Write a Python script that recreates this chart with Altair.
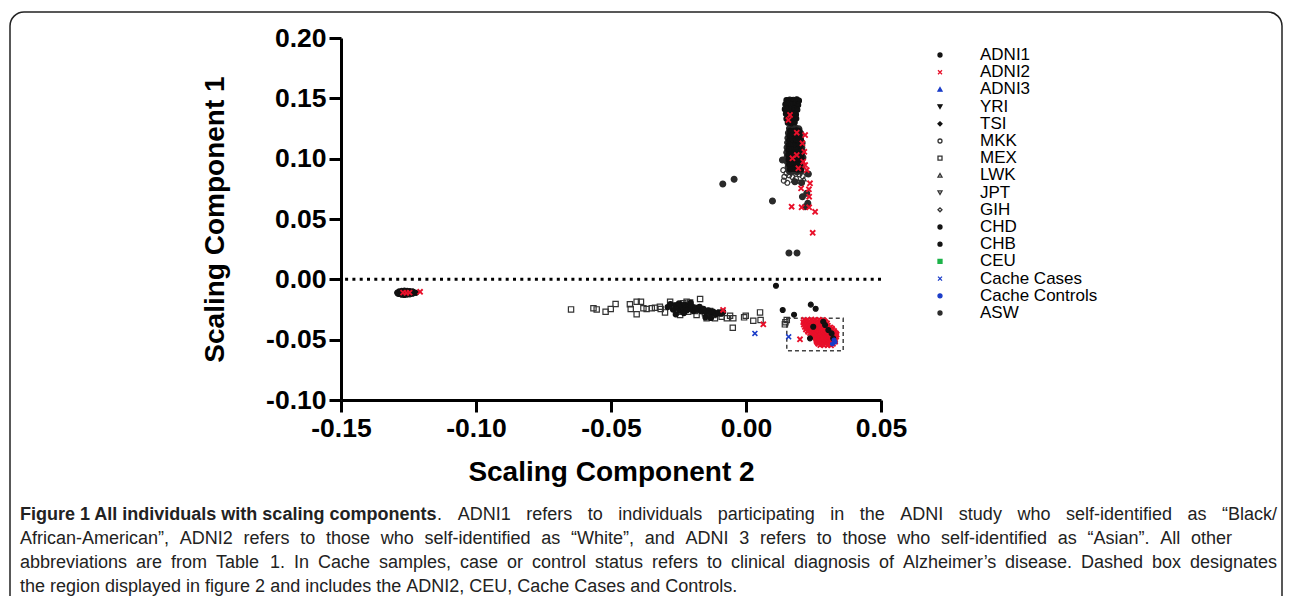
import altair as alt
import pandas as pd

# ---------------- data ----------------
groups = ["ADNI1", "ADNI2", "ADNI3", "YRI", "TSI", "MKK", "MEX", "LWK", "JPT",
          "GIH", "CHD", "CHB", "CEU", "Cache Cases", "Cache Controls", "ASW"]

x_ticks = [-0.15, -0.10, -0.05, 0.00, 0.05]
y_ticks = [-0.10, -0.05, 0.00, 0.05, 0.10, 0.15, 0.20]

# (Scaling Component 2, Scaling Component 1) pairs per group
mex_pts = [(-0.0648, -0.0249), (-0.0565, -0.0240), (-0.0553, -0.0249), (-0.0520, -0.0268),
           (-0.0501, -0.0246), (-0.0483, -0.0205), (-0.0430, -0.0207), (-0.0405, -0.0186),
           (-0.0389, -0.0186), (-0.0427, -0.0246), (-0.0405, -0.0290), (-0.0380, -0.0240),
           (-0.0368, -0.0246), (-0.0349, -0.0240), (-0.0337, -0.0235), (-0.0319, -0.0227),
           (-0.0316, -0.0246), (-0.0300, -0.0274), (-0.0281, -0.0186), (-0.0269, -0.0219),
           (-0.0257, -0.0240), (-0.0251, -0.0268), (-0.0244, -0.0296), (-0.0232, -0.0199),
           (-0.0220, -0.0186), (-0.0207, -0.0191), (-0.0226, -0.0254), (-0.0214, -0.0268),
           (-0.0201, -0.0240), (-0.0189, -0.0263), (-0.0183, -0.0296), (-0.0170, -0.0163),
           (-0.0164, -0.0254), (-0.0152, -0.0282), (-0.0146, -0.0323), (-0.0133, -0.0263),
           (-0.0121, -0.0296), (-0.0115, -0.0323), (-0.0109, -0.0282), (-0.0096, -0.0274),
           (-0.0090, -0.0310), (-0.0071, -0.0323), (-0.0059, -0.0302), (-0.0047, -0.0323),
           (-0.0049, -0.0401), (-0.0007, -0.0315), (-0.0001, -0.0302), (0.0027, -0.0343),
           (0.0052, -0.0274), (0.0054, -0.0337), (0.0146, -0.0356), (0.0151, -0.0337),
           (0.0144, -0.0373)]

mkk_pts = [(0.0138, 0.0905), (0.0150, 0.0880), (0.0142, 0.0850), (0.0160, 0.0862),
           (0.0172, 0.0848), (0.0185, 0.0835), (0.0198, 0.0870), (0.0165, 0.0890),
           (0.0210, 0.0855), (0.0228, 0.0875), (0.0140, 0.0818), (0.0153, 0.0800)]

lwk_pts = [(0.0175, 0.0820), (0.0195, 0.0812), (0.0215, 0.0832)]

asw_pts = [(0.0161, 0.1250), (0.0173, 0.1248), (0.0185, 0.1252), (0.0196, 0.1247),
           (0.0157, 0.1212), (0.0169, 0.1215), (0.0181, 0.1210), (0.0192, 0.1214), (0.0203, 0.1209),
           (0.0155, 0.1172), (0.0167, 0.1175), (0.0178, 0.1170), (0.0190, 0.1174), (0.0201, 0.1169),
           (0.0154, 0.1133), (0.0165, 0.1130), (0.0177, 0.1135), (0.0189, 0.1131), (0.0199, 0.1134), (0.0208, 0.1129),
           (0.0152, 0.1092), (0.0163, 0.1095), (0.0175, 0.1090), (0.0187, 0.1094), (0.0198, 0.1089), (0.0207, 0.1093),
           (0.0151, 0.1051), (0.0162, 0.1054), (0.0174, 0.1049), (0.0186, 0.1053), (0.0197, 0.1050), (0.0209, 0.1055),
           (0.0152, 0.1013), (0.0163, 0.1010), (0.0176, 0.1015), (0.0188, 0.1011), (0.0200, 0.1014), (0.0211, 0.1009),
           (0.0153, 0.0972), (0.0166, 0.0975), (0.0178, 0.0970), (0.0191, 0.0974), (0.0203, 0.0971),
           (0.0156, 0.0931), (0.0169, 0.0934), (0.0182, 0.0929), (0.0195, 0.0933), (0.0207, 0.0930),
           (0.0161, 0.0893), (0.0175, 0.0896), (0.0189, 0.0891), (0.0203, 0.0895),
           (0.0098, 0.0649), (0.0135, 0.0989), (0.0181, 0.0809), (0.0206, 0.0801),
           (0.0209, 0.0685), (0.0225, 0.0713), (0.0219, 0.0602), (0.0229, 0.0630),
           (0.0231, 0.0873), (-0.0086, 0.0790), (-0.0044, 0.0829), (0.0159, 0.0218),
           (0.0189, 0.0218)]

adni1_pts = [(0.0150, 0.1485), (0.0162, 0.1490), (0.0175, 0.1488), (0.0188, 0.1492), (0.0196, 0.1480),
             (0.0146, 0.1450), (0.0158, 0.1455), (0.0170, 0.1448), (0.0182, 0.1452), (0.0193, 0.1445),
             (0.0144, 0.1410), (0.0155, 0.1415), (0.0167, 0.1408), (0.0179, 0.1412), (0.0190, 0.1405),
             (0.0148, 0.1372), (0.0160, 0.1368), (0.0172, 0.1375), (0.0185, 0.1365),
             (0.0150, 0.1330), (0.0162, 0.1335), (0.0174, 0.1328), (0.0186, 0.1332),
             (0.0155, 0.1298), (0.0168, 0.1293), (0.0180, 0.1300),
             (0.0163, 0.1232), (0.0175, 0.1230), (0.0187, 0.1234), (0.0198, 0.1229),
             (0.0161, 0.1192), (0.0173, 0.1195), (0.0185, 0.1190), (0.0196, 0.1193),
             (0.0160, 0.1152), (0.0172, 0.1155), (0.0184, 0.1150), (0.0195, 0.1154), (0.0204, 0.1151),
             (0.0158, 0.1112), (0.0170, 0.1115), (0.0182, 0.1110), (0.0193, 0.1113), (0.0203, 0.1111),
             (0.0157, 0.1072), (0.0168, 0.1075), (0.0180, 0.1070), (0.0192, 0.1074), (0.0203, 0.1071),
             (0.0157, 0.1032), (0.0169, 0.1035), (0.0181, 0.1030), (0.0194, 0.1034), (0.0205, 0.1031),
             (0.0158, 0.0992), (0.0171, 0.0995), (0.0183, 0.0990), (0.0196, 0.0994), (0.0207, 0.0991),
             (0.0160, 0.0952), (0.0173, 0.0955), (0.0186, 0.0950), (0.0199, 0.0953),
             (0.0163, 0.0912), (0.0177, 0.0915), (0.0191, 0.0910), (0.0204, 0.0913),
             (-0.0290, -0.0230), (-0.0280, -0.0205), (-0.0270, -0.0250), (-0.0262, -0.0215),
             (-0.0255, -0.0235), (-0.0248, -0.0200), (-0.0245, -0.0260), (-0.0240, -0.0222),
             (-0.0235, -0.0245), (-0.0228, -0.0210), (-0.0224, -0.0232), (-0.0218, -0.0255),
             (-0.0212, -0.0218), (-0.0206, -0.0240), (-0.0200, -0.0225), (-0.0195, -0.0262),
             (-0.0188, -0.0235), (-0.0180, -0.0250), (-0.0172, -0.0228), (-0.0165, -0.0265),
             (-0.0158, -0.0245), (-0.0150, -0.0270), (-0.0140, -0.0258), (-0.0132, -0.0280),
             (-0.0122, -0.0268), (-0.0112, -0.0290), (-0.0102, -0.0278), (-0.0092, -0.0285),
             (-0.0085, -0.0270), (-0.0260, -0.0290), (-0.0230, -0.0280), (-0.0205, -0.0195),
             (-0.0150, -0.0315), (-0.0130, -0.0320)]

yri_pts = [(0.0170, 0.1150), (0.0185, 0.1070), (0.0160, 0.0990), (0.0195, 0.0950)]

chb_pts = [(-0.1292, -0.0110), (-0.1285, -0.0100), (-0.1285, -0.0122), (-0.1275, -0.0095),
           (-0.1275, -0.0128), (-0.1265, -0.0093), (-0.1265, -0.0130), (-0.1255, -0.0095),
           (-0.1255, -0.0127), (-0.1245, -0.0097), (-0.1245, -0.0125), (-0.1235, -0.0100),
           (-0.1235, -0.0120), (-0.1228, -0.0110), (-0.1222, -0.0112), (-0.1290, -0.0118),
           (-0.1280, -0.0105), (-0.1232, -0.0104)]

ceu_pts = [(0.0250, -0.0420), (0.0280, -0.0460)]

adni2_pts = [(0.0163, 0.1362), (0.0157, 0.1320), (0.0188, 0.1215), (0.0219, 0.1196),
             (0.0209, 0.1127), (0.0216, 0.1057), (0.0188, 0.1030), (0.0172, 0.1003),
             (0.0212, 0.0975), (0.0219, 0.0947), (0.0194, 0.0920), (0.0225, 0.0906),
             (0.0237, 0.0796), (0.0204, 0.0754), (0.0233, 0.0746), (0.0234, 0.0685),
             (0.0169, 0.0602), (0.0206, 0.0597), (0.0234, 0.0597), (0.0256, 0.0560),
             (0.0247, 0.0386),
             (-0.1270, -0.0110), (-0.1258, -0.0112), (-0.1246, -0.0110), (-0.1207, -0.0103),
             (-0.0085, -0.0254), (0.0064, -0.0373), (0.0200, -0.0497),
             (0.0215, -0.0335), (0.0228, -0.0338), (0.0242, -0.0333), (0.0256, -0.0336), (0.0270, -0.0334), (0.0285, -0.0337),
             (0.0222, -0.0345), (0.0235, -0.0346), (0.0249, -0.0344), (0.0263, -0.0347), (0.0277, -0.0345), (0.0290, -0.0346),
             (0.0212, -0.0355), (0.0225, -0.0358), (0.0238, -0.0353), (0.0252, -0.0356), (0.0266, -0.0354), (0.0280, -0.0357), (0.0294, -0.0355),
             (0.0219, -0.0365), (0.0232, -0.0366), (0.0246, -0.0364), (0.0259, -0.0367), (0.0273, -0.0365), (0.0287, -0.0366), (0.0300, -0.0364),
             (0.0214, -0.0375), (0.0227, -0.0378), (0.0240, -0.0373), (0.0254, -0.0376), (0.0268, -0.0374), (0.0282, -0.0377), (0.0296, -0.0375),
             (0.0221, -0.0385), (0.0234, -0.0386), (0.0247, -0.0384), (0.0261, -0.0387), (0.0275, -0.0385), (0.0289, -0.0386), (0.0303, -0.0384),
             (0.0218, -0.0395), (0.0231, -0.0398), (0.0245, -0.0393), (0.0259, -0.0396), (0.0273, -0.0394), (0.0287, -0.0397), (0.0301, -0.0395), (0.0312, -0.0398),
             (0.0225, -0.0405), (0.0238, -0.0406), (0.0252, -0.0404), (0.0266, -0.0407), (0.0280, -0.0405), (0.0294, -0.0406), (0.0308, -0.0404), (0.0318, -0.0407),
             (0.0222, -0.0415), (0.0236, -0.0418), (0.0250, -0.0413), (0.0264, -0.0416), (0.0278, -0.0414), (0.0292, -0.0417), (0.0306, -0.0415), (0.0320, -0.0418),
             (0.0229, -0.0425), (0.0243, -0.0426), (0.0257, -0.0424), (0.0271, -0.0427), (0.0285, -0.0425), (0.0299, -0.0426), (0.0313, -0.0424), (0.0326, -0.0427),
             (0.0230, -0.0435), (0.0244, -0.0438), (0.0258, -0.0433), (0.0272, -0.0436), (0.0286, -0.0434), (0.0300, -0.0437), (0.0314, -0.0435), (0.0328, -0.0438),
             (0.0237, -0.0445), (0.0251, -0.0446), (0.0265, -0.0444), (0.0279, -0.0447), (0.0293, -0.0445), (0.0307, -0.0446), (0.0321, -0.0444), (0.0333, -0.0447),
             (0.0245, -0.0455), (0.0258, -0.0458), (0.0272, -0.0453), (0.0286, -0.0456), (0.0300, -0.0454), (0.0314, -0.0457), (0.0328, -0.0455), (0.0336, -0.0458),
             (0.0251, -0.0465), (0.0265, -0.0466), (0.0279, -0.0464), (0.0293, -0.0467), (0.0307, -0.0465), (0.0321, -0.0466), (0.0331, -0.0464),
             (0.0255, -0.0475), (0.0268, -0.0478), (0.0282, -0.0473), (0.0296, -0.0476), (0.0310, -0.0474), (0.0324, -0.0477), (0.0334, -0.0475),
             (0.0258, -0.0485), (0.0271, -0.0486), (0.0285, -0.0484), (0.0299, -0.0487), (0.0313, -0.0485), (0.0327, -0.0486),
             (0.0260, -0.0495), (0.0274, -0.0498), (0.0288, -0.0493), (0.0302, -0.0496), (0.0316, -0.0494), (0.0330, -0.0497),
             (0.0261, -0.0505), (0.0275, -0.0506), (0.0289, -0.0504), (0.0303, -0.0507), (0.0317, -0.0505), (0.0329, -0.0506),
             (0.0262, -0.0515), (0.0276, -0.0518), (0.0290, -0.0513), (0.0304, -0.0516), (0.0318, -0.0514), (0.0330, -0.0517),
             (0.0265, -0.0525), (0.0279, -0.0526), (0.0293, -0.0524), (0.0307, -0.0527), (0.0320, -0.0525),
             (0.0268, -0.0535), (0.0282, -0.0538), (0.0296, -0.0533), (0.0310, -0.0536), (0.0322, -0.0534),
             (0.0275, -0.0545), (0.0289, -0.0546), (0.0303, -0.0544), (0.0315, -0.0547)]

chd_pts = [(0.0111, -0.0053), (0.0136, -0.0254), (0.0178, -0.0293), (0.0240, -0.0210),
           (0.0258, -0.0244), (0.0249, -0.0393), (0.0286, -0.0351), (0.0293, -0.0379),
           (0.0305, -0.0420), (0.0317, -0.0448), (0.0323, -0.0489), (0.0237, -0.0489)]

cases_pts = [(0.0033, -0.0448), (0.0158, -0.0476)]
controls_pts = [(0.0326, -0.0503), (0.0330, -0.0520), (0.0320, -0.0535)]

# dashed box (region of figure 2)
box_x = [0.0151]
box_x2 = [0.0360]
box_y = [-0.0323]
box_y2 = [-0.0591]

zero_line = [0.0]

caption_bold = "Figure 1 All individuals with scaling components"
caption_lines = [
    ". ADNI1 refers to individuals participating in the ADNI study who self-identified as \u201cBlack/",
    "African-American\u201d, ADNI2 refers to those who self-identified as \u201cWhite\u201d, and ADNI 3 refers to those who self-identified as \u201cAsian\u201d. All other",
    "abbreviations are from Table 1. In Cache samples, case or control status refers to clinical diagnosis of Alzheimer\u2019s disease. Dashed box designates",
    "the region displayed in figure 2 and includes the ADNI2, CEU, Cache Cases and Controls.",
]

# ---------------- styles / layout ----------------
X_PATH = "M-1,-1L1,1M-1,1L1,-1"
shape_range = ["circle", X_PATH, "triangle-up", "triangle-down", "diamond", "circle", "square",
               "triangle-up", "triangle-down", "diamond", "circle", "circle", "square", X_PATH,
               "circle", "circle"]
stroke_range = ["#111111", "#e8102a", "#1a3cc8", "#111111", "#111111", "#333333", "#333333",
                "#333333", "#333333", "#333333", "#111111", "#111111", "#1db34a", "#1a3cc8",
                "#1a3cc8", "#2a2a2a"]
fill_range = ["#111111", "transparent", "#1a3cc8", "#111111", "#111111", "transparent",
              "transparent", "transparent", "transparent", "transparent", "#111111", "#111111",
              "#1db34a", "transparent", "#1a3cc8", "#2a2a2a"]

point_sets = [("MEX", mex_pts), ("MKK", mkk_pts), ("LWK", lwk_pts), ("ASW", asw_pts),
              ("ADNI1", adni1_pts), ("YRI", yri_pts), ("CHB", chb_pts), ("CEU", ceu_pts),
              ("ADNI2", adni2_pts), ("CHD", chd_pts), ("Cache Cases", cases_pts),
              ("Cache Controls", controls_pts)]
mark_size = {"MEX": 28, "MKK": 24, "LWK": 18, "ASW": 34, "ADNI1": 26, "YRI": 16, "CHB": 24,
             "CEU": 16, "ADNI2": 26, "CHD": 24, "Cache Cases": 24, "Cache Controls": 14}
mark_sw = {"ADNI2": 1.9, "Cache Cases": 1.6}

rows = []
for g, pts in point_sets:
    for (a, b) in pts:
        rows.append({"group": g, "sc2": a, "sc1": b})
df = pd.DataFrame(rows)

FONT = "Liberation Sans"
label_expr = "replace(format(datum.value, '.2f'), '\u2212', '-')"

x_scale = alt.Scale(domain=[-0.15, 0.05], nice=False, zero=False)
y_scale = alt.Scale(domain=[-0.10, 0.20], nice=False, zero=False)
shape_scale = alt.Scale(domain=groups, range=shape_range)
stroke_scale = alt.Scale(domain=groups, range=stroke_range)
fill_scale = alt.Scale(domain=groups, range=fill_range)

axis_common = dict(grid=False, domainWidth=3, domainColor="black", tickWidth=3, tickColor="black",
                   tickSize=12, labelFont=FONT, labelFontSize=26.5, labelFontWeight="bold",
                   labelColor="black", labelExpr=label_expr, labelFlush=False, labelOverlap=False,
                   titleFont=FONT, titleFontSize=28, titleFontWeight="bold", titleColor="black")
x_axis = alt.Axis(values=x_ticks, labelPadding=3, titlePadding=16.5, **axis_common)
y_axis = alt.Axis(values=y_ticks, labelPadding=3, titlePadding=36, **axis_common)

X_TITLE = "Scaling Component 2"
Y_TITLE = "Scaling Component 1"

style_enc = dict(
    shape=alt.Shape("group:N", scale=shape_scale, legend=None),
    stroke=alt.Stroke("group:N", scale=stroke_scale, legend=None),
    fill=alt.Fill("group:N", scale=fill_scale, legend=None),
)

point_layers = []
for g, _ in point_sets:
    point_layers.append(
        alt.Chart(df).transform_filter(alt.datum.group == g)
        .mark_point(filled=False, size=mark_size[g], strokeWidth=mark_sw.get(g, 1.2), opacity=1)
        .encode(x=alt.X("sc2:Q", scale=x_scale, axis=x_axis, title=X_TITLE),
                y=alt.Y("sc1:Q", scale=y_scale, axis=y_axis, title=Y_TITLE),
                **style_enc)
    )

OX, OY = 341, 38  # page position of plot origin

# ---- legend (one entry per group, styled by the same shape/stroke/fill scales) ----
LEG_TOP, LEG_STEP = 55, 17.2
legend_df = pd.DataFrame({"group": groups,
                          "ly": [LEG_TOP - OY + i * LEG_STEP for i in range(len(groups))]})
leg_symbols = alt.Chart(legend_df).mark_point(filled=False, size=16, strokeWidth=1.3, opacity=1).encode(
    x=alt.value(940 - OX), y=alt.Y("ly:Q", scale=None, axis=None), **style_enc)
leg_labels = alt.Chart(legend_df).mark_text(
    align="left", baseline="middle", font=FONT, fontSize=17, color="black"
).encode(x=alt.value(980 - OX), y=alt.Y("ly:Q", scale=None, axis=None), text="group:N")

frame = alt.Chart(pd.DataFrame({"k": [0]})).mark_rect(
    fillOpacity=0, stroke="#222222", strokeWidth=1.5, cornerRadius=14
).encode(x=alt.value(10 - OX), x2=alt.value(1282 - OX), y=alt.value(12 - OY), y2=alt.value(640 - OY))

zero_rule = alt.Chart(pd.DataFrame({"sc1": zero_line})).mark_rule(
    color="black", strokeWidth=3, strokeDash=[3, 4.3]
).encode(y=alt.Y("sc1:Q", scale=y_scale, axis=y_axis, title=Y_TITLE))

box = alt.Chart(pd.DataFrame({"bx": box_x, "bx2": box_x2, "by": box_y, "by2": box_y2})).mark_rect(
    fillOpacity=0, stroke="#444444", strokeWidth=1.5, strokeDash=[4, 3]
).encode(
    x=alt.X("bx:Q", scale=x_scale, axis=x_axis, title=X_TITLE), x2="bx2:Q",
    y=alt.Y("by:Q", scale=y_scale, axis=y_axis, title=Y_TITLE), y2="by2:Q",
)

# ---- caption: justified text using Arial (= Liberation Sans) advance widths ----
_reg = dict(zip("abcdefghijklmnopqrstuvwxyz",
                [556, 556, 500, 556, 556, 278, 556, 556, 222, 222, 500, 222, 833, 556, 556, 556,
                 556, 333, 500, 278, 556, 500, 722, 500, 500, 500]))
_reg.update(dict(zip("ABCDEFGHIJKLMNOPQRSTUVWXYZ",
                     [667, 667, 722, 722, 667, 611, 778, 722, 278, 500, 667, 556, 833, 722, 778,
                      667, 778, 722, 667, 611, 722, 667, 944, 667, 667, 611])))
_reg.update({" ": 278, ".": 278, ",": 278, "-": 333, "/": 278, "\u201c": 333, "\u201d": 333,
             "\u2019": 222})
for d in "0123456789":
    _reg[d] = 556
_bold = dict(zip("abcdefghijklmnopqrstuvwxyz",
                 [556, 611, 556, 611, 556, 333, 611, 611, 278, 278, 556, 278, 889, 611, 611, 611,
                  611, 389, 556, 333, 611, 556, 778, 556, 556, 500]))
_bold.update({" ": 278, "F": 611, "A": 722})
for d in "0123456789":
    _bold[d] = 556

CAP_FS = 18


def tw(s, bold=False):
    tbl = _bold if bold else _reg
    return sum(tbl.get(ch, 556) for ch in s) * CAP_FS / 1000.0


word_rows = []


def justify(words, x0, x1, baseline, justified=True):
    widths = [tw(w) for w in words]
    if justified and len(words) > 1:
        gap = (x1 - x0 - sum(widths)) / (len(words) - 1)
    else:
        gap = tw(" ")
    x = x0
    for w, wd in zip(words, widths):
        word_rows.append({"w": w, "px": x - OX, "py": baseline - OY})
        x += wd + gap


bold_end = 20 + tw(caption_bold, bold=True)
justify(caption_lines[0].split(" "), bold_end, 1277, 520)
justify(caption_lines[1].split(" "), 20, 1232, 544)
justify(caption_lines[2].split(" "), 20, 1277, 568)
justify(caption_lines[3].split(" "), 20, 1277, 592, justified=False)

cap_bold = alt.Chart(pd.DataFrame({"t": [caption_bold]})).mark_text(
    align="left", baseline="alphabetic", font=FONT, fontSize=CAP_FS, fontWeight="bold",
    color="#222222"
).encode(text="t:N", x=alt.value(20 - OX), y=alt.value(520 - OY))

cap_words = alt.Chart(pd.DataFrame(word_rows)).mark_text(
    align="left", baseline="alphabetic", font=FONT, fontSize=CAP_FS, color="#222222"
).encode(
    text="w:N",
    x=alt.X("px:Q", scale=None, axis=None),
    y=alt.Y("py:Q", scale=None, axis=None),
)

# canvas = 1276 x 588 px: fits the page body exactly, so it is drawn unscaled
chart = alt.layer(frame, zero_rule, box, *point_layers, leg_symbols, leg_labels,
                  cap_bold, cap_words).properties(
    width=540, height=362,
    autosize=alt.AutoSizeParams(type="none"),
    padding={"left": 333, "top": 30, "right": 403, "bottom": 196},
).configure_view(strokeWidth=0)

chart.save("out.html", embed_options={"renderer": "svg", "actions": False})
